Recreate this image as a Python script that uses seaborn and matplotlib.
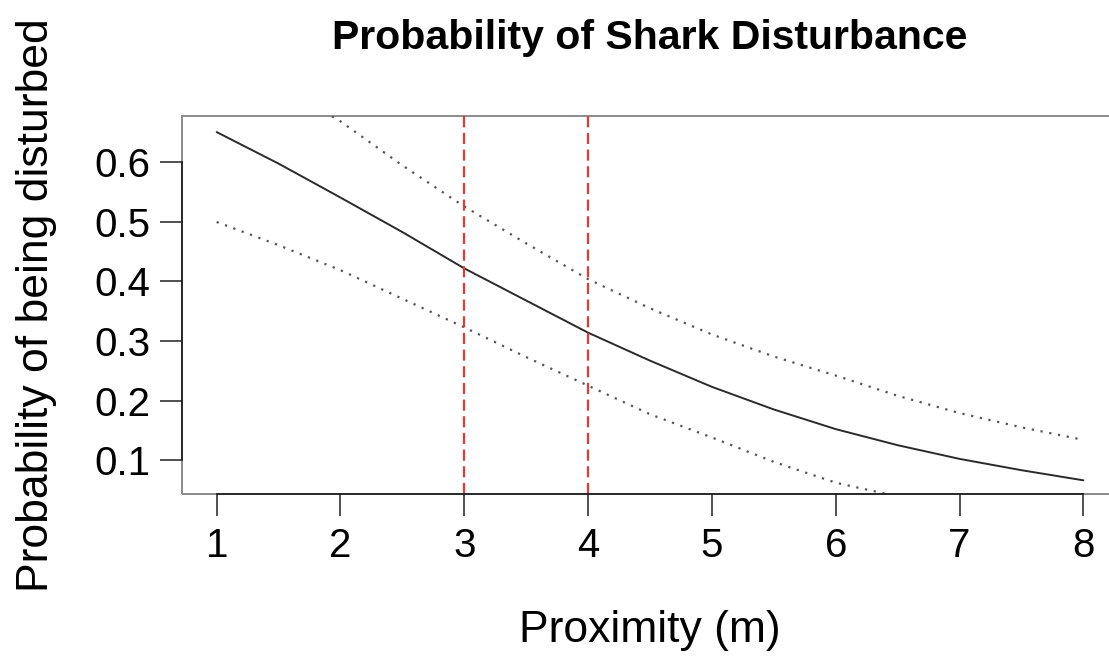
import matplotlib
matplotlib.use("Agg")
import matplotlib.pyplot as plt
import seaborn as sns
from matplotlib.patches import Rectangle

# Werte (Schritt 0.5 m)
proximity = [1, 1.5, 2, 2.5, 3, 3.5, 4, 4.5, 5, 5.5, 6, 6.5, 7, 7.5, 8]
prob_fit = [0.651, 0.598, 0.541, 0.483, 0.422, 0.368, 0.314, 0.267, 0.223,
            0.185, 0.152, 0.125, 0.102, 0.083, 0.066]
prob_upper = [0.790, 0.730, 0.669, 0.595, 0.526, 0.464, 0.404, 0.355, 0.311,
              0.274, 0.242, 0.208, 0.179, 0.155, 0.134]
prob_lower = [0.500, 0.461, 0.419, 0.371, 0.323, 0.273, 0.225, 0.177, 0.138,
              0.097, 0.062, 0.039, 0.024, 0.014, 0.008]
cut_offs = [3, 4]
x_ticks = [1, 2, 3, 4, 5, 6, 7, 8]
y_ticks = [0.1, 0.2, 0.3, 0.4, 0.5, 0.6]

sns.set_theme(style="white")
plt.rcParams['font.family'] = ['Liberation Sans', 'DejaVu Sans']
plt.rcParams['text.color'] = 'black'
plt.rcParams['axes.labelcolor'] = 'black'
plt.rcParams['xtick.color'] = 'black'
plt.rcParams['ytick.color'] = 'black'

fig = plt.figure(figsize=(11.09, 6.64), dpi=100)
ax = fig.add_axes([182 / 1109, 170 / 664, 936 / 1109, 378 / 664])

sns.lineplot(x=proximity, y=prob_fit, ax=ax, color='#2a2a2a', lw=1.4)
sns.lineplot(x=proximity, y=prob_upper, ax=ax, color='#555555', lw=1.6)
sns.lineplot(x=proximity, y=prob_lower, ax=ax, color='#555555', lw=1.6)
for ln in ax.lines[1:3]:
    ln.set_dashes((1, 3))

for c in cut_offs:
    ax.axvline(c, color='#e53935', lw=1.6, dashes=(5, 2.5))

ax.set_xlim(0.72, 8.28)
ax.set_ylim(0.043, 0.678)
ax.set_xticks(x_ticks)
ax.set_xticklabels([str(t) for t in x_ticks])
ax.set_yticks(y_ticks)
ax.set_yticklabels([f"{t:.1f}" for t in y_ticks])

# box in grau, Achsenlinien schwarz nur zwischen den Ticks
for s in ['top', 'right']:
    ax.spines[s].set_visible(False)
ax.spines['left'].set_bounds(y_ticks[0], y_ticks[-1])
ax.spines['bottom'].set_bounds(x_ticks[0], x_ticks[-1])
for s in ['left', 'bottom']:
    ax.spines[s].set_color('#222222')
    ax.spines[s].set_linewidth(1.3)
ax.add_patch(Rectangle((0, 0), 1, 1, transform=ax.transAxes, fill=False,
                       edgecolor='#8a8a8a', lw=1.4, clip_on=False, zorder=0.5))

ax.tick_params(axis='both', direction='out', length=15.8, width=1.1,
               color='#222222', labelsize=29, left=True, bottom=True)
ax.tick_params(axis='x', pad=8)
ax.tick_params(axis='y', pad=7)

ax.set_xlabel("Proximity (m)", fontsize=32)
ax.set_ylabel("Probability of being disturbed", fontsize=32)
ax.xaxis.set_label_coords(0.5, -0.36)
ax.xaxis.label.set_va('center')
ax.yaxis.set_label_coords(-0.155, 0.5)
ax.yaxis.label.set_va('center')
ax.set_title("Probability of Shark Disturbance", fontsize=29.5,
             fontweight='bold', y=1.206, pad=0, va='center')

fig.savefig('out.png', dpi=100)
